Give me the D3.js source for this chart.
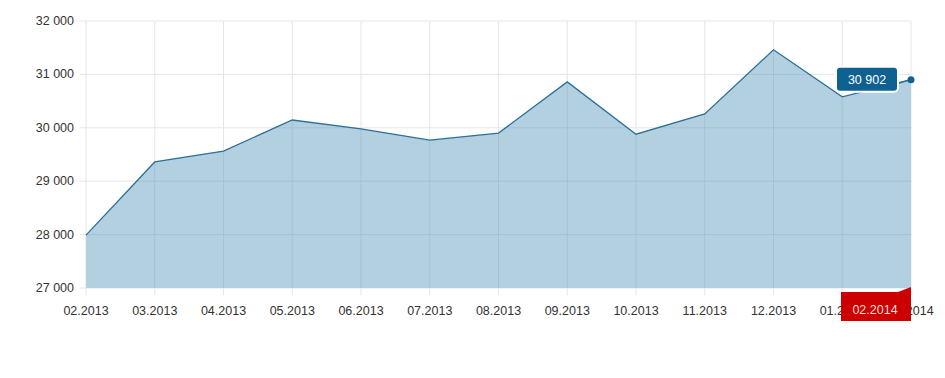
<!DOCTYPE html>
<html>
<head>
<meta charset="utf-8">
<script src="https://cdn.jsdelivr.net/npm/d3@7"></script>
<style>
  body { margin: 0; background: #fff; }
  svg text { font-family: "Liberation Sans", Arial, sans-serif; }
</style>
</head>
<body>
<div id="chart"></div>
<script>
// Monthly values, 02.2013 .. 02.2014
const months = ["02.2013", "03.2013", "04.2013", "05.2013", "06.2013", "07.2013", "08.2013",
  "09.2013", "10.2013", "11.2013", "12.2013", "01.2014", "02.2014"];
const values = [27990, 29360, 29565, 30146, 29980, 29770, 29900, 30860, 29880, 30260, 31460, 30580, 30902];
const yTicks = [27000, 28000, 29000, 30000, 31000, 32000];

const width = 945, height = 378;
const margin = { top: 21, right: 34, bottom: 90, left: 86 };
const innerW = width - margin.left - margin.right;
const innerH = height - margin.top - margin.bottom;

const svg = d3.select("#chart").append("svg")
  .attr("width", width)
  .attr("height", height);
const g = svg.append("g").attr("transform", `translate(${margin.left},${margin.top})`);

const x = d3.scalePoint().domain(months).range([0, innerW]);
const y = d3.scaleLinear().domain([27000, 32000]).range([innerH, 0]);
const fmt = v => d3.format(",")(v).replace(/,/g, " ");

// Grid lines.
g.append("g").selectAll("line.h").data(yTicks).enter().append("line")
  .attr("x1", -6).attr("x2", innerW)
  .attr("y1", d => y(d)).attr("y2", d => y(d))
  .attr("stroke", "#e6e6e6");
g.append("g").selectAll("line.v").data(months).enter().append("line")
  .attr("x1", d => x(d)).attr("x2", d => x(d))
  .attr("y1", 0).attr("y2", innerH + 7)
  .attr("stroke", "#e6e6e6");

// Area + line.
const data = months.map((m, i) => ({ m, v: values[i] }));
const area = d3.area().x(d => x(d.m)).y0(innerH).y1(d => y(d.v));
svg.append("defs").append("clipPath").attr("id", "areaClip")
  .append("path").datum(data).attr("d", area);
g.append("path").datum(data)
  .attr("fill", "#b3d0e1")
  .attr("d", area);
// Grid visible through the area, slightly darker.
g.append("g").attr("clip-path", "url(#areaClip)").selectAll("line").data(months.slice(1, -1)).enter().append("line")
  .attr("x1", d => x(d)).attr("x2", d => x(d))
  .attr("y1", 0).attr("y2", innerH)
  .attr("stroke", "#a3c2d4");
g.append("g").attr("clip-path", "url(#areaClip)").selectAll("line").data(yTicks.slice(1)).enter().append("line")
  .attr("x1", 0).attr("x2", innerW)
  .attr("y1", d => y(d)).attr("y2", d => y(d))
  .attr("stroke", "#a3c2d4");
g.append("path").datum(data)
  .attr("fill", "none")
  .attr("stroke", "#2a7099")
  .attr("stroke-width", 1.3)
  .attr("d", d3.line().x(d => x(d.m)).y(d => y(d.v)));

// Axis labels.
g.append("g").selectAll("text").data(yTicks).enter().append("text")
  .attr("x", -12).attr("y", d => y(d) + 4)
  .attr("text-anchor", "end")
  .attr("font-size", "12.5px").attr("fill", "#333")
  .text(fmt);
g.append("g").selectAll("text").data(months).enter().append("text")
  .attr("x", d => x(d)).attr("y", innerH + 27)
  .attr("text-anchor", "middle")
  .attr("font-size", "12.5px").attr("fill", "#333")
  .text(d => d);

// Highlighted last month label.
const lastM = months[months.length - 1];
const lx = x(lastM), lv = values[values.length - 1];
g.append("path")
  .attr("d", `M${lx - 70},${innerH + 4} L${lx - 13},${innerH + 4} L${lx},${innerH - 1} L${lx},${innerH + 33} L${lx - 70},${innerH + 33} Z`)
  .attr("fill", "#cc0000");
g.append("text")
  .attr("x", lx - 36).attr("y", innerH + 26)
  .attr("text-anchor", "middle")
  .attr("font-size", "12.5px").attr("fill", "#f2dcdc")
  .text(lastM);

// Last point marker + tooltip.
g.append("line")
  .attr("x1", lx - 14).attr("y1", y(lv) + 4)
  .attr("x2", lx).attr("y2", y(lv))
  .attr("stroke", "#2a7099").attr("stroke-width", 1.3);
g.append("circle")
  .attr("cx", lx).attr("cy", y(lv)).attr("r", 3.5)
  .attr("fill", "#0f6191");
g.append("rect")
  .attr("x", lx - 75).attr("y", y(lv) - 13)
  .attr("width", 62).attr("height", 25)
  .attr("rx", 4)
  .attr("fill", "#0f6191")
  .attr("stroke", "#fff").attr("stroke-width", 2);
g.append("text")
  .attr("x", lx - 44).attr("y", y(lv) + 4)
  .attr("text-anchor", "middle")
  .attr("font-size", "12.5px").attr("fill", "#fff")
  .text(fmt(lv));
</script>
</body>
</html>
